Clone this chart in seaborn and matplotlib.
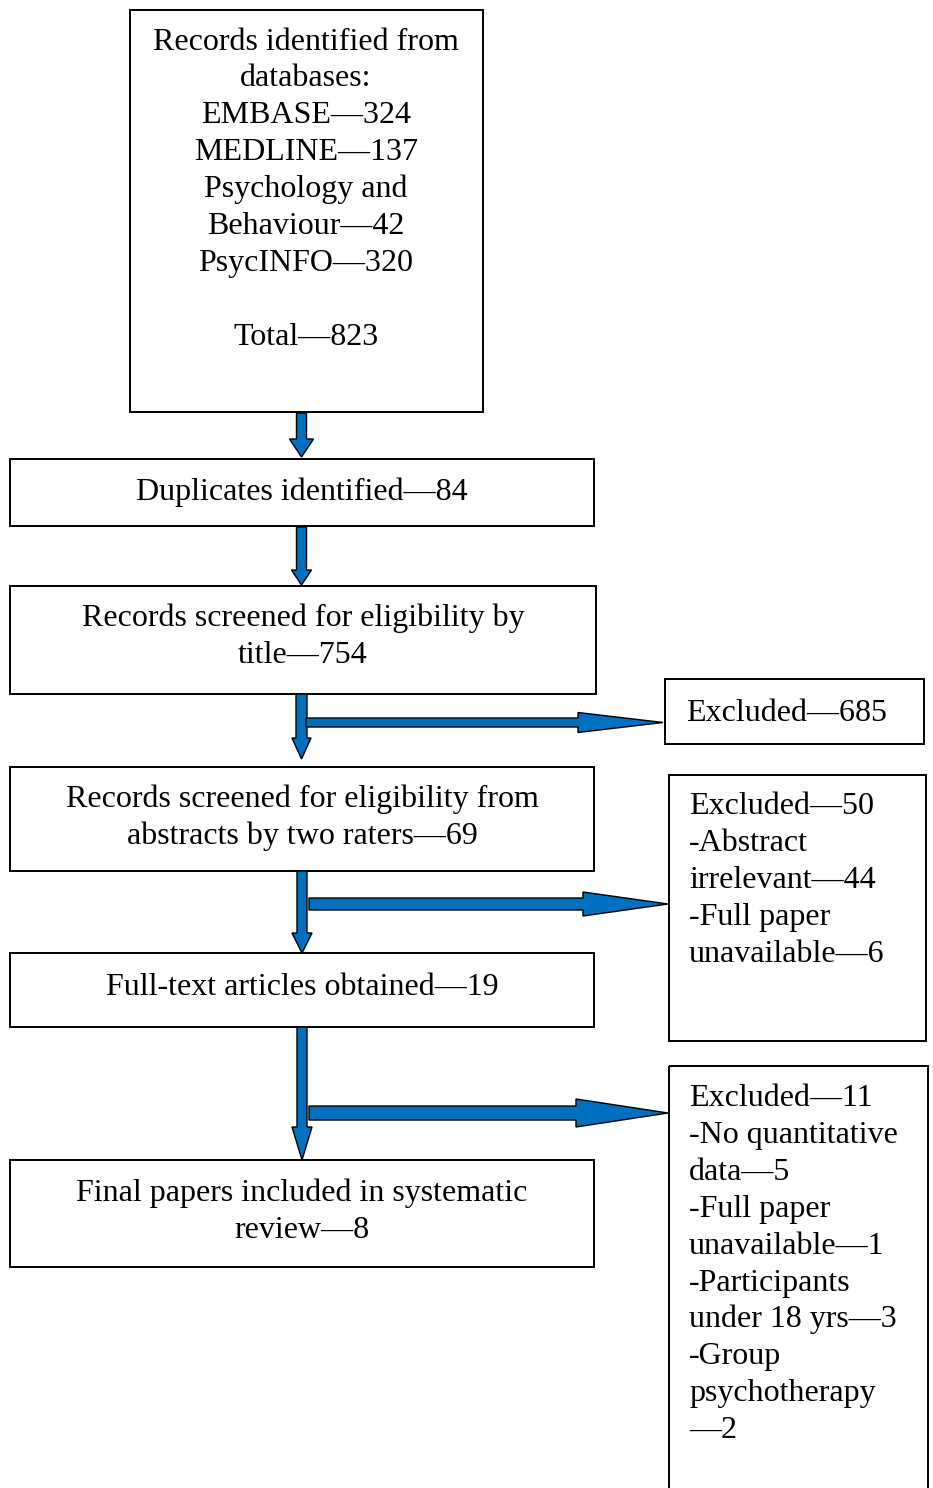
import matplotlib
matplotlib.use("Agg")
import matplotlib.pyplot as plt
from matplotlib.patches import Rectangle, Polygon
import seaborn as sns

# ---------------- data ----------------
db_names = ["EMBASE", "MEDLINE", "Psychology and\nBehaviour", "PsycINFO"]
db_counts = [324, 137, 42, 320]
total_records = 823
duplicates = 84
screened_title = 754
excluded_title = 685
screened_abstract = 69
excluded_abstract = 50
abstract_reasons = ["Abstract\nirrelevant", "Full paper\nunavailable"]
abstract_counts = [44, 6]
fulltext_obtained = 19
excluded_fulltext = 11
fulltext_reasons = ["No quantitative\ndata", "Full paper\nunavailable",
                    "Participants\nunder 18 yrs", "Group\npsychotherapy\n"]
fulltext_counts = [5, 1, 3, 2]
final_included = 8

DASH = "\u2014"
BLUE = "#0070C0"

sns.set_theme(style="white")
plt.rcParams["font.family"] = ["Liberation Serif", "DejaVu Serif"]

fig = plt.figure(figsize=(9.33, 14.88), dpi=100)
ax = fig.add_axes([0, 0, 1, 1])
ax.set_xlim(0, 933)
ax.set_ylim(1488, 0)
ax.axis("off")

FS = 23
STEP = 36.9


def box(x0, y0, x1, y1):
    ax.add_patch(Rectangle((x0, y0), x1 - x0, y1 - y0, fill=False,
                           edgecolor="black", linewidth=1.4, zorder=2))


def lines(text_lines, x, base0, ha="center"):
    for i, t in enumerate(text_lines):
        if t == "":
            continue
        ax.text(x, base0 + i * STEP, t, ha=ha, va="baseline", fontsize=FS,
                color="black", zorder=3)


def down_arrow(xc, y0, y1, hl, sw=10, hw=20):
    pts = [(xc - sw / 2, y0), (xc + sw / 2, y0), (xc + sw / 2, y1 - hl),
           (xc + hw / 2, y1 - hl), (xc, y1), (xc - hw / 2, y1 - hl),
           (xc - sw / 2, y1 - hl)]
    ax.add_patch(Polygon(pts, closed=True, facecolor=BLUE, edgecolor="black",
                         linewidth=1.0, zorder=4))


def right_arrow(x0, x1, yc, hl, sh, hh):
    pts = [(x0, yc - sh / 2), (x1 - hl, yc - sh / 2), (x1 - hl, yc - hh / 2),
           (x1, yc), (x1 - hl, yc + hh / 2), (x1 - hl, yc + sh / 2),
           (x0, yc + sh / 2)]
    ax.add_patch(Polygon(pts, closed=True, facecolor=BLUE, edgecolor="black",
                         linewidth=1.0, zorder=4))


# ---- box 1: records identified ----
box(130, 10, 483, 412)
top_lines = ["Records identified from", "databases:"]
for n, c in zip(db_names, db_counts):
    parts = n.split("\n")
    parts[-1] = parts[-1] + DASH + str(c)
    top_lines += parts
top_lines += ["", "Total" + DASH + str(total_records)]
lines(top_lines, 306, 49.5)

# ---- box 2: duplicates ----
box(10, 459, 594, 526)
lines(["Duplicates identified" + DASH + str(duplicates)], 302, 500)

# ---- box 3: screened by title ----
box(10, 586, 596, 694)
lines(["Records screened for eligibility by", "title" + DASH + str(screened_title)], 303, 626)

# ---- box 4: excluded 685 ----
box(665, 679, 924, 744)
lines(["Excluded" + DASH + str(excluded_title)], 686, 721, ha="left")

# ---- box 5: screened abstracts ----
box(10, 767, 594, 871)
lines(["Records screened for eligibility from",
       "abstracts by two raters" + DASH + str(screened_abstract)], 302, 807)

# ---- box 6: excluded 50 ----
box(669, 775, 926, 1041)
ex2 = ["Excluded" + DASH + str(excluded_abstract)]
for r, c in zip(abstract_reasons, abstract_counts):
    parts = ("-" + r).split("\n")
    parts[-1] = parts[-1] + DASH + str(c)
    ex2 += parts
lines(ex2, 689, 814, ha="left")

# ---- box 7: full text ----
box(10, 953, 594, 1027)
lines(["Full-text articles obtained" + DASH + str(fulltext_obtained)], 302, 995)

# ---- box 8: excluded 11 ----
ax.add_patch(Rectangle((669, 1066), 259, 460, fill=False, edgecolor="black",
                       linewidth=1.4, zorder=2, clip_on=True))
ex3 = ["Excluded" + DASH + str(excluded_fulltext)]
for r, c in zip(fulltext_reasons, fulltext_counts):
    parts = ("-" + r).split("\n")
    parts[-1] = parts[-1] + DASH + str(c)
    ex3 += parts
lines(ex3, 689, 1106, ha="left")

# ---- box 9: final ----
box(10, 1160, 594, 1267)
lines(["Final papers included in systematic",
       "review" + DASH + str(final_included)], 302, 1201)

# ---- arrows ----
down_arrow(301.5, 413, 457, 18, sw=10, hw=24)
down_arrow(301.5, 527, 585, 15, sw=10, hw=20)
down_arrow(301.5, 694, 759, 21, sw=11, hw=19)
right_arrow(306, 663, 722.5, 85, 9, 20)
down_arrow(302, 871, 953, 20, sw=10, hw=20)
right_arrow(309, 668, 904, 85, 12, 24)
down_arrow(302, 1027, 1160, 33, sw=10, hw=20)
right_arrow(309, 668, 1113, 92, 14, 28)

fig.savefig("out.png", dpi=100)
